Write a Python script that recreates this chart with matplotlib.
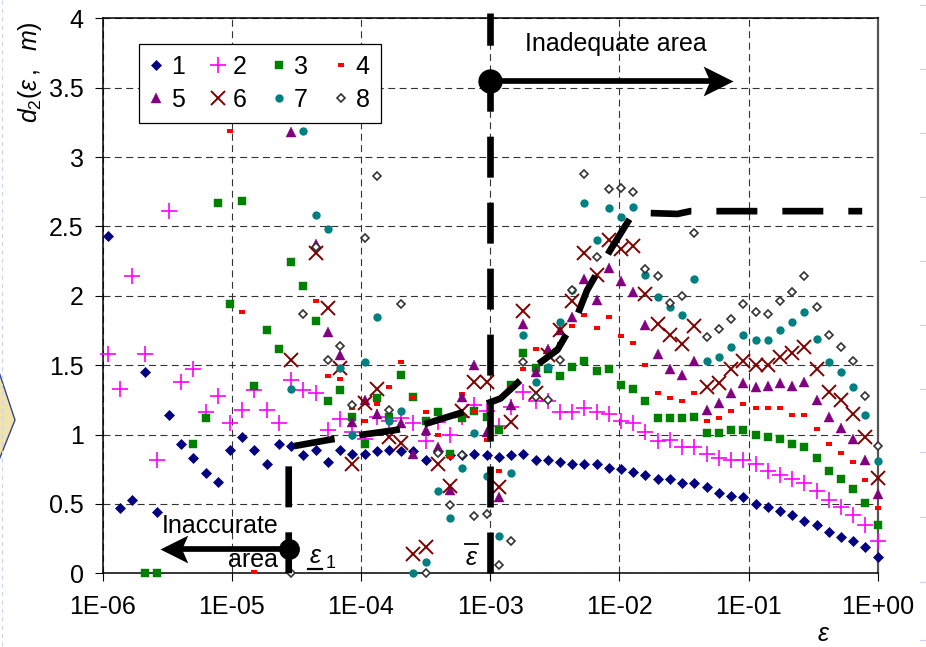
import numpy as np
import matplotlib
matplotlib.use('Agg')
import matplotlib.pyplot as plt
from matplotlib.path import Path
from matplotlib.lines import Line2D
from matplotlib.patches import Polygon

plt.rcParams['font.family'] = ['Liberation Sans', 'DejaVu Sans']
plt.rcParams['font.size'] = 18
plt.rcParams['lines.scale_dashes'] = False
plt.rcParams['mathtext.fontset'] = 'custom'
plt.rcParams['mathtext.rm'] = 'Liberation Sans'
plt.rcParams['mathtext.it'] = 'Liberation Sans:italic'

# log10(eps) of the points, shared by all 8 series
log_eps = [-5.960, -5.865, -5.771, -5.676, -5.582, -5.487, -5.392, -5.298, -5.203, -5.109,
           -5.014, -4.919, -4.825, -4.730, -4.636, -4.541, -4.446, -4.352, -4.257, -4.163,
           -4.068, -3.973, -3.879, -3.784, -3.690, -3.595, -3.500, -3.406, -3.311, -3.217,
           -3.122, -3.027, -2.933, -2.838, -2.744, -2.649, -2.554, -2.460, -2.365, -2.271,
           -2.176, -2.081, -1.987, -1.892, -1.798, -1.703, -1.608, -1.514, -1.419, -1.325,
           -1.230, -1.135, -1.041, -0.946, -0.852, -0.757, -0.662, -0.568, -0.473, -0.379,
           -0.284, -0.189, -0.095, 0.000]

N = None
d2_1 = [2.43, 0.47, 0.53, 1.45, 0.44, 1.14, 0.93, 0.83, 0.72, 0.66,
        0.89, 0.98, 0.89, 0.79, 0.93, 0.92, 0.85, 0.89, 0.80, 0.89,
        0.86, 0.86, 0.88, 0.89, 0.88, 0.88, 0.82, 0.88, 0.85, 0.85,
        0.86, 0.85, 0.84, 0.85, 0.86, 0.82, 0.82, 0.80, 0.79, 0.79,
        0.79, 0.76, 0.75, 0.73, 0.71, 0.68, 0.68, 0.65, 0.65, 0.62,
        0.58, 0.56, 0.55, 0.50, 0.48, 0.45, 0.42, 0.38, 0.35, 0.30,
        0.26, 0.23, 0.19, 0.12]
d2_2 = [1.58, 1.33, 2.14, 1.58, 0.82, 2.61, 1.38, 1.47, 1.16, 1.28,
        1.08, 1.18, 1.32, 1.18, 1.08, 1.39, 1.32, 1.30, 1.03, 1.11,
        1.02, 0.97, 1.13, 1.10, 1.12, 1.08, 0.95, 1.09, 1.00, 1.13,
        1.21, 1.17, 1.06, 1.20, 1.31, 1.24, 1.24, 1.16, 1.16, 1.19,
        1.16, 1.15, 1.10, 1.08, 1.02, 0.95, 0.96, 0.91, 0.91, 0.86,
        0.83, 0.82, 0.82, 0.79, 0.74, 0.71, 0.68, 0.65, 0.59, 0.53,
        0.48, 0.42, 0.35, 0.23]
d2_3 = [N, N, N, 0.00, 0.00, N, N, 0.93, 1.12, 2.67,
        1.94, 2.68, 1.35, 1.75, 1.62, 2.24, 2.07, 1.82, 1.24, 1.32,
        1.13, 0.93, 1.26, 1.13, 1.43, 1.27, 1.10, 1.16, 0.86, 1.12,
        1.17, 1.13, 1.03, 1.36, 1.59, 1.48, 1.47, 1.42, 1.49, 1.53,
        1.46, 1.47, 1.36, 1.33, 1.24, 1.12, 1.12, 1.12, 1.13, 1.01,
        1.01, 1.03, 1.03, 1.00, 0.98, 0.97, 0.93, 0.91, 0.83, 0.74,
        0.68, 0.61, 0.51, 0.35]
d2_4 = [N, N, N, N, N, N, N, N, N, N,
        3.19, 1.88, 0.01, N, N, N, N, 1.96, 1.42, 1.40,
        1.19, 1.10, 1.22, 1.34, 1.52, 1.27, 1.16, 1.00, 0.84, 1.29,
        1.16, 0.96, 0.74, 1.34, 1.47, 1.62, 1.60, 1.65, 1.78, 1.86,
        1.77, 1.85, 1.71, 1.66, 1.50, 1.30, 1.26, 1.24, 1.30, 1.10,
        1.12, 1.17, 1.22, 1.19, 1.19, 1.19, 1.14, 1.14, 1.04, 0.93,
        0.87, 0.80, 0.67, 0.47]
d2_5 = [N, N, N, N, N, N, N, N, N, N,
        N, N, N, N, N, 3.18, N, 2.37, 1.74, 1.57,
        1.09, 1.25, 1.15, N, 1.08, 0.86, 1.03, 0.91, 0.60, 1.27,
        1.50, 1.02, 0.55, 1.21, 1.80, 1.45, 1.62, 1.75, 1.85, 2.12,
        1.97, 2.20, 2.11, 2.03, 1.79, 1.58, 1.47, 1.43, 1.53, 1.18,
        1.23, 1.30, 1.37, 1.34, 1.35, 1.37, 1.35, 1.38, 1.25, 1.13,
        1.05, 0.97, 0.82, 0.57]
d2_6 = [N, N, N, N, N, N, N, N, N, N,
        N, N, N, N, N, 1.54, N, 2.31, 1.91, 1.48,
        0.79, 1.23, 1.33, 0.98, 0.94, 0.14, 0.19, 0.79, 0.63, 1.17,
        1.38, 1.38, 0.62, 1.09, 1.89, 1.30, 1.57, 1.75, 1.96, 2.31,
        2.15, 2.40, 2.34, 2.36, 2.01, 1.80, 1.72, 1.65, 1.78, 1.34,
        1.37, 1.47, 1.53, 1.50, 1.50, 1.56, 1.59, 1.63, 1.47, 1.31,
        1.25, 1.15, 0.98, 0.69]
d2_7 = [N, N, N, N, N, N, N, N, N, N,
        N, N, N, N, N, 1.33, 3.19, 2.58, 2.48, 1.48,
        1.00, 1.52, 1.85, 1.10, 1.17, 0.00, 0.08, 0.59, 0.40, 0.76,
        1.01, 0.70, 0.27, 0.72, 1.72, 1.38, 1.49, 1.81, 2.04, 2.67,
        2.40, 2.63, 2.57, 2.64, 2.15, 1.99, 1.92, 1.86, 2.12, 1.53,
        1.56, 1.63, 1.72, 1.68, 1.68, 1.75, 1.81, 1.88, 1.69, 1.52,
        1.45, 1.34, 1.14, 0.81]
d2_8 = [N, N, N, N, N, N, N, N, N, N,
        N, N, N, N, N, 0.00, 1.87, 2.35, 1.54, 1.64,
        1.21, 2.42, 2.86, 1.18, 1.94, N, 0.00, 0.87, 0.49, 0.85,
        0.41, 0.43, 0.06, 0.23, 1.52, 1.27, 1.25, 1.54, 2.04, 2.88,
        2.28, 2.77, 2.78, 2.75, 2.19, 2.14, 1.95, 2.00, 2.45, 1.70,
        1.76, 1.83, 1.94, 1.88, 1.87, 1.96, 2.03, 2.14, 1.92, 1.72,
        1.63, 1.53, 1.28, 0.92]
series = [d2_1, d2_2, d2_3, d2_4, d2_5, d2_6, d2_7, d2_8]
labels = ['1', '2', '3', '4', '5', '6', '7', '8']

# thick dashed estimate of d2 (starts at eps_1)
est_log_eps = [-4.56, -4.56, -4.26, -4.06, -3.75, -3.56, -3.18, -2.92, -2.64,
               -2.48, -2.33, -2.25, -2.07, -1.89, -1.55, -1.45, -0.12]
est_d2 = [0.00, 0.91, 0.96, 0.99, 1.03, 1.06, 1.17, 1.26, 1.50,
          1.61, 1.85, 2.04, 2.33, 2.60, 2.59, 2.61, 2.61]

eps_1 = 10 ** -4.56
eps_bar = 1e-3
xticks = [1e-6, 1e-5, 1e-4, 1e-3, 1e-2, 1e-1, 1e0]
xtick_labels = ['1E-06', '1E-05', '1E-04', '1E-03', '1E-02', '1E-01', '1E+00']
yticks = [0, 0.5, 1, 1.5, 2, 2.5, 3, 3.5, 4]
ytick_labels = ['0', '0.5', '1', '1.5', '2', '2.5', '3', '3.5', '4']

eps = 10 ** np.array(log_eps)

dash_mark = Path([(-1, -0.5), (1, -0.5), (1, 0.5), (-1, 0.5), (-1, -0.5)], closed=True)
styles = [
    dict(marker='D', ms=4.8, color='#000080', mew=0.5),
    dict(marker='+', ms=11, color='#ff00ff', mew=1.2),
    dict(marker='s', ms=5.2, color='#008000', mew=0.3),
    dict(marker=dash_mark, ms=4.6, color='#ff0000', mew=0),
    dict(marker='^', ms=7, color='#800080', mew=0.3),
    dict(marker='x', ms=9.5, color='#800000', mew=1.4),
    dict(marker='o', ms=6, color='#008080', mew=0),
    dict(marker='D', ms=4.2, mfc='white', mec='#333333', mew=1.2),
]

W, H = 926, 647
def fx(x):
    return x / W
def fy(y):
    return 1 - y / H

fig = plt.figure(figsize=(W / 100, H / 100), dpi=100)
ax = fig.add_axes([fx(102.7), fy(573.3), 775 / W, 555 / H])

handles = []
for vals, lab, st in zip(series, labels, styles):
    y = np.array(vals, dtype=float)
    h, = ax.plot(eps, y, ls='none', label=lab, clip_on=False, zorder=3, **st)
    handles.append(h)

ax.set_xscale('log')
ax.set_xlim(1e-6, 1)
ax.set_ylim(0, 4)
ax.set_xticks(xticks)
ax.set_xticklabels(xtick_labels)
ax.xaxis.set_minor_locator(matplotlib.ticker.NullLocator())
ax.set_yticks(yticks)
ax.set_yticklabels(ytick_labels)
ax.tick_params(axis='both', direction='out', length=5.8, width=0.8, labelsize=18)
ax.tick_params(axis='x', pad=10)
ax.tick_params(axis='y', pad=8)
ax.grid(True, color='#333333', lw=0.8, linestyle=(0, (5, 3.2)), zorder=1)
ax.set_axisbelow(True)
for side in ['left', 'bottom', 'top']:
    ax.spines[side].set_color('black')
    ax.spines[side].set_linewidth(1.1)
ax.spines['right'].set_color('#555555')
ax.spines['right'].set_linewidth(1.6)

# thick dashed lines
thick = dict(color='black', lw=4.8, linestyle=(0, (29.5, 18)), solid_capstyle='butt',
             dash_capstyle='butt', zorder=5, clip_on=False)
ax.plot(10 ** np.array(est_log_eps), est_d2, **thick)
ax.plot([eps_bar, eps_bar], [0, 4.04], **thick)

# arrows with circles
head_r = Path([(0, 0), (-1, 0.5), (-0.78, 0), (-1, -0.5), (0, 0)],
              [Path.MOVETO, Path.LINETO, Path.LINETO, Path.LINETO, Path.CLOSEPOLY])
head_l = Path([(0, 0), (1, 0.5), (0.78, 0), (1, -0.5), (0, 0)],
              [Path.MOVETO, Path.LINETO, Path.LINETO, Path.LINETO, Path.CLOSEPOLY])
y_top_arrow = 3.548
y_bot_arrow = 0.175
ax.plot([eps_bar, 10 ** -1.28], [y_top_arrow, y_top_arrow], color='black', lw=4.1,
        solid_capstyle='butt', zorder=6, clip_on=False)
ax.plot([10 ** -1.121], [y_top_arrow], marker=head_r, ms=43, color='black', mew=0,
        zorder=6, clip_on=False)
ax.plot([eps_bar], [y_top_arrow], marker='o', ms=16.5, color='black', zorder=7, clip_on=False)

ax.plot([eps_1, 10 ** -5.40], [y_bot_arrow, y_bot_arrow], color='black', lw=4.1,
        solid_capstyle='butt', zorder=6, clip_on=False)
ax.plot([10 ** -5.556], [y_bot_arrow], marker=head_l, ms=40, color='black', mew=0,
        zorder=6, clip_on=False)
ax.plot([eps_1], [y_bot_arrow], marker='o', ms=14, color='black', zorder=7, clip_on=False)

# legend: rows 1-4 and 5-8
order = [0, 4, 1, 5, 2, 6, 3, 7]
leg = ax.legend([handles[i] for i in order], [labels[i] for i in order], ncol=4,
                loc='upper left', bbox_to_anchor=(0.0468, 0.9537), borderaxespad=0,
                fontsize=18, handlelength=0.5, handletextpad=0.35, columnspacing=1.05,
                labelspacing=0.35, borderpad=0.45, fancybox=False, framealpha=1,
                edgecolor='black')
leg.get_frame().set_linewidth(0.9)
leg.set_zorder(8)

# texts
fig.text(fx(525), fy(50.7), 'Inadequate area', ha='left', va='baseline', fontsize=18)
fig.text(fx(278), fy(533), 'Inaccurate', ha='right', va='baseline', fontsize=18)
fig.text(fx(278), fy(567), 'area', ha='right', va='baseline', fontsize=18)
fig.text(fx(315), fy(563), 'ε', ha='center', va='baseline', fontsize=18, style='italic')
fig.text(fx(326), fy(568), '1', ha='left', va='baseline', fontsize=13)
fig.add_artist(Line2D([fx(308), fx(322)], [fy(568.5), fy(568.5)], color='black', lw=1.6,
                      transform=fig.transFigure))
fig.text(fx(471), fy(565), 'ε', ha='center', va='baseline', fontsize=18, style='italic')
fig.add_artist(Line2D([fx(465), fx(478)], [fy(544), fy(544)], color='black', lw=1.3,
                      transform=fig.transFigure))
fig.text(fx(823), fy(641), 'ε', ha='center', va='baseline', fontsize=18, style='italic')
fig.text(fx(30), fy(72), r'$d_2(\varepsilon\,,\ \ m)$', rotation=90, ha='center', va='center',
         fontsize=18)

# slide decorations at the edges
fig.add_artist(Polygon([(fx(-5), fy(360)), (fx(15), fy(420)), (fx(-5), fy(470))], closed=True,
                       transform=fig.transFigure, fc='#f1e3ad', ec='#34448a', lw=1.0))
fig.add_artist(Line2D([fx(2), fx(2)], [fy(0), fy(647)], color='#c9d2f2', lw=0.8,
                      linestyle=(0, (3, 3)), transform=fig.transFigure))
for yy in [5, 69, 133, 197, 261, 325, 389, 452, 517, 582, 640]:
    fig.add_artist(Line2D([fx(920), fx(926)], [fy(yy), fy(yy)], color='#c9d2f2', lw=0.8,
                          transform=fig.transFigure))

fig.savefig('out.png', dpi=100)
